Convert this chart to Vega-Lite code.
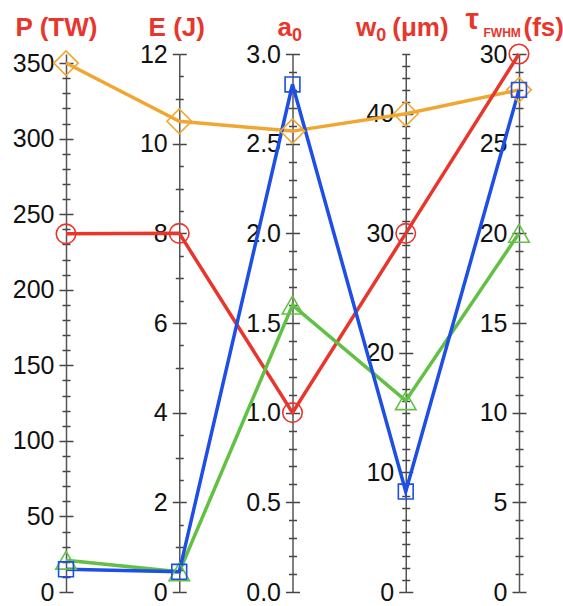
{
  "$schema": "https://vega.github.io/schema/vega-lite/v6.json",
  "width": 563,
  "height": 606,
  "autosize": "none",
  "padding": 0,
  "background": "white",
  "config": {
    "view": {"stroke": null},
    "axis": {
      "grid": false,
      "labelFont": "Liberation Sans",
      "labelFontSize": 25,
      "labelColor": "#111",
      "labelOverlap": false,
      "labelFlush": false,
      "tickColor": "#444",
      "tickWidth": 1.5,
      "domainColor": "#555",
      "domainWidth": 1.5,
      "titleFont": "Liberation Sans",
      "titleFontWeight": "bold",
      "titleColor": "#e8362c",
      "titleAngle": 0,
      "titleBaseline": "alphabetic",
      "titleFontSize": 26
    }
  },
  "data": {
    "values": [
      {"series": "A", "axis": "P", "value": 350},
      {"series": "A", "axis": "E", "value": 10.5},
      {"series": "A", "axis": "a0", "value": 2.57},
      {"series": "A", "axis": "w0", "value": 40},
      {"series": "A", "axis": "tau", "value": 28},
      {"series": "B", "axis": "P", "value": 237},
      {"series": "B", "axis": "E", "value": 8},
      {"series": "B", "axis": "a0", "value": 1.0},
      {"series": "B", "axis": "w0", "value": 30},
      {"series": "B", "axis": "tau", "value": 30},
      {"series": "D", "axis": "P", "value": 21},
      {"series": "D", "axis": "E", "value": 0.45},
      {"series": "D", "axis": "a0", "value": 1.6},
      {"series": "D", "axis": "w0", "value": 16},
      {"series": "D", "axis": "tau", "value": 20},
      {"series": "C", "axis": "P", "value": 15},
      {"series": "C", "axis": "E", "value": 0.45},
      {"series": "C", "axis": "a0", "value": 2.83},
      {"series": "C", "axis": "w0", "value": 8.4},
      {"series": "C", "axis": "tau", "value": 28}
    ]
  },
  "encoding": {
    "x": {"field": "axis", "type": "nominal", "axis": null,
      "scale": {"type": "point", "domain": ["P", "E", "a0", "w0", "tau"], "range": [66, 519], "padding": 0}},
    "color": {"field": "series", "type": "nominal", "legend": null,
      "scale": {"domain": ["A", "B", "C", "D"], "range": ["#f0a732", "#e8362c", "#1d4fe6", "#62c144"]}}
  },
  "layer": [
    {
      "transform": [{"calculate": "datum.value / (datum.axis === 'P' ? 356 : datum.axis === 'E' ? 12 : datum.axis === 'a0' ? 3 : datum.axis === 'w0' ? 45 : 30)", "as": "norm"}],
      "mark": {"type": "line", "strokeWidth": 3.5},
      "encoding": {
        "y": {"field": "norm", "type": "quantitative", "axis": null, "scale": {"domain": [0, 1], "range": [592, 54], "nice": false}},
        "order": {"value": null}
      }
    },
    {
      "transform": [{"filter": "datum.axis === 'P'"}],
      "mark": {"type": "point", "filled": false, "strokeWidth": 1.6, "opacity": 1, "size": {"expr": "datum.series === 'A' ? 600 : datum.series === 'B' ? 380 : datum.series === 'C' ? 220 : 420"}},
      "encoding": {
        "shape": {"field": "series", "type": "nominal", "legend": null, "scale": {"domain": ["A", "B", "C", "D"], "range": ["diamond", "circle", "square", "triangle-up"]}},
        "y": {"field": "value", "type": "quantitative", "scale": {"domain": [0, 356], "range": [592, 54], "nice": false},
          "axis": {"orient": "left", "offset": -66,
            "values": [0,10,20,30,40,50,60,70,80,90,100,110,120,130,140,150,160,170,180,190,200,210,220,230,240,250,260,270,280,290,300,310,320,330,340,350],
            "format": "d", "labelExpr": "datum.value % 50 === 0 ? datum.label : ''",
            "tickSize": {"condition": {"test": "datum.value % 50 === 0", "value": 7}, "value": 4},
            "labelPadding": 5,
            "title": "P (TW)", "titleAlign": "center", "titleX": -10, "titleY": 35}}
      }
    },
    {
      "transform": [{"filter": "datum.axis === 'E'"}],
      "mark": {"type": "point", "filled": false, "strokeWidth": 1.6, "opacity": 1, "size": {"expr": "datum.series === 'A' ? 600 : datum.series === 'B' ? 380 : datum.series === 'C' ? 220 : 420"}},
      "encoding": {
        "shape": {"field": "series", "type": "nominal", "legend": null},
        "y": {"field": "value", "type": "quantitative", "scale": {"domain": [0, 12], "range": [592, 54], "nice": false},
          "axis": {"orient": "left", "offset": -179.25,
            "values": [0,0.5,1,1.5,2,2.5,3,3.5,4,4.5,5,5.5,6,6.5,7,7.5,8,8.5,9,9.5,10,10.5,11,11.5,12],
            "format": "d", "labelExpr": "datum.value % 2 === 0 ? datum.label : ''",
            "tickSize": {"condition": {"test": "datum.value % 2 === 0", "value": 7}, "value": 4},
            "labelPadding": 5,
            "title": "E (J)", "titleAlign": "center", "titleX": -3, "titleY": 35}}
      }
    },
    {
      "transform": [{"filter": "datum.axis === 'a0'"}],
      "mark": {"type": "point", "filled": false, "strokeWidth": 1.6, "opacity": 1, "size": {"expr": "datum.series === 'A' ? 600 : datum.series === 'B' ? 380 : datum.series === 'C' ? 220 : 420"}},
      "encoding": {
        "shape": {"field": "series", "type": "nominal", "legend": null},
        "y": {"field": "value", "type": "quantitative", "scale": {"domain": [0, 3], "range": [592, 54], "nice": false},
          "axis": {"orient": "left", "offset": -292.5,
            "values": [0,0.1,0.2,0.3,0.4,0.5,0.6,0.7,0.8,0.9,1,1.1,1.2,1.3,1.4,1.5,1.6,1.7,1.8,1.9,2,2.1,2.2,2.3,2.4,2.5,2.6,2.7,2.8,2.9,3],
            "format": ".1f", "labelExpr": "abs(datum.value * 2 - round(datum.value * 2)) < 0.001 ? datum.label : ''",
            "tickSize": {"condition": {"test": "abs(datum.value * 2 - round(datum.value * 2)) < 0.001", "value": 7}, "value": 4},
            "labelPadding": 5,
            "title": "a", "titleAlign": "right", "titleX": -1, "titleY": 35}}
      }
    },
    {
      "transform": [{"filter": "datum.axis === 'w0'"}],
      "mark": {"type": "point", "filled": false, "strokeWidth": 1.6, "opacity": 1, "size": {"expr": "datum.series === 'A' ? 600 : datum.series === 'B' ? 380 : datum.series === 'C' ? 220 : 420"}},
      "encoding": {
        "shape": {"field": "series", "type": "nominal", "legend": null},
        "y": {"field": "value", "type": "quantitative", "scale": {"domain": [0, 45], "range": [592, 54], "nice": false},
          "axis": {"orient": "left", "offset": -405.75,
            "values": [0,1,2,3,4,5,6,7,8,9,10,11,12,13,14,15,16,17,18,19,20,21,22,23,24,25,26,27,28,29,30,31,32,33,34,35,36,37,38,39,40,41,42,43,44,45],
            "format": "d", "labelExpr": "datum.value % 10 === 0 ? datum.label : ''",
            "tickSize": {"condition": {"test": "datum.value % 10 === 0", "value": 7}, "value": 4},
            "labelPadding": 5,
            "title": "w", "titleAlign": "right", "titleX": -30, "titleY": 35}}
      }
    },
    {
      "transform": [{"filter": "datum.axis === 'tau'"}],
      "mark": {"type": "point", "filled": false, "strokeWidth": 1.6, "opacity": 1, "size": {"expr": "datum.series === 'A' ? 600 : datum.series === 'B' ? 380 : datum.series === 'C' ? 220 : 420"}},
      "encoding": {
        "shape": {"field": "series", "type": "nominal", "legend": null},
        "y": {"field": "value", "type": "quantitative", "scale": {"domain": [0, 30], "range": [592, 54], "nice": false},
          "axis": {"orient": "left", "offset": -519,
            "values": [0,1,2,3,4,5,6,7,8,9,10,11,12,13,14,15,16,17,18,19,20,21,22,23,24,25,26,27,28,29,30],
            "format": "d", "labelExpr": "datum.value % 5 === 0 ? datum.label : ''",
            "tickSize": {"condition": {"test": "datum.value % 5 === 0", "value": 7}, "value": 4},
            "labelPadding": 5,
            "title": "τ", "titleAlign": "left", "titleX": -54, "titleY": 28, "titleFontSize": 30}}
      }
    },
    {
      "transform": [{"filter": "datum.axis === 'P'"}],
      "mark": {"type": "point", "opacity": 0},
      "encoding": {
        "y": {"field": "value", "type": "quantitative", "scale": {"domain": [0, 356], "range": [592, 54], "nice": false},
          "axis": {"orient": "right", "offset": -497, "domain": false, "labels": false,
            "values": [0,10,20,30,40,50,60,70,80,90,100,110,120,130,140,150,160,170,180,190,200,210,220,230,240,250,260,270,280,290,300,310,320,330,340,350],
            "tickSize": {"condition": {"test": "datum.value % 50 === 0", "value": 7}, "value": 4},
            "title": null}}
      }
    },
    {
      "transform": [{"filter": "datum.axis === 'E'"}],
      "mark": {"type": "point", "opacity": 0},
      "encoding": {
        "y": {"field": "value", "type": "quantitative", "scale": {"domain": [0, 12], "range": [592, 54], "nice": false},
          "axis": {"orient": "right", "offset": -383.75, "domain": false, "labels": false,
            "values": [0,0.5,1,1.5,2,2.5,3,3.5,4,4.5,5,5.5,6,6.5,7,7.5,8,8.5,9,9.5,10,10.5,11,11.5,12],
            "tickSize": {"condition": {"test": "datum.value % 2 === 0", "value": 7}, "value": 4},
            "title": null}}
      }
    },
    {
      "transform": [{"filter": "datum.axis === 'a0'"}],
      "mark": {"type": "point", "opacity": 0},
      "encoding": {
        "y": {"field": "value", "type": "quantitative", "scale": {"domain": [0, 3], "range": [592, 54], "nice": false},
          "axis": {"orient": "right", "offset": -270.5, "domain": false, "labels": false,
            "values": [0,0.1,0.2,0.3,0.4,0.5,0.6,0.7,0.8,0.9,1,1.1,1.2,1.3,1.4,1.5,1.6,1.7,1.8,1.9,2,2.1,2.2,2.3,2.4,2.5,2.6,2.7,2.8,2.9,3],
            "tickSize": {"condition": {"test": "abs(datum.value * 2 - round(datum.value * 2)) < 0.001", "value": 7}, "value": 4},
            "title": "0", "titleAlign": "left", "titleX": -1, "titleY": 40, "titleFontSize": 18}}
      }
    },
    {
      "transform": [{"filter": "datum.axis === 'w0'"}],
      "mark": {"type": "point", "opacity": 0},
      "encoding": {
        "y": {"field": "value", "type": "quantitative", "scale": {"domain": [0, 45], "range": [592, 54], "nice": false},
          "axis": {"orient": "right", "offset": -157.25, "domain": false, "labels": false,
            "values": [0,1,2,3,4,5,6,7,8,9,10,11,12,13,14,15,16,17,18,19,20,21,22,23,24,25,26,27,28,29,30,31,32,33,34,35,36,37,38,39,40,41,42,43,44,45],
            "tickSize": {"condition": {"test": "datum.value % 10 === 0", "value": 7}, "value": 4},
            "title": "0", "titleAlign": "left", "titleX": -30, "titleY": 40, "titleFontSize": 18}}
      }
    },
    {
      "transform": [{"filter": "datum.axis === 'tau'"}],
      "mark": {"type": "point", "opacity": 0},
      "encoding": {
        "y": {"field": "value", "type": "quantitative", "scale": {"domain": [0, 30], "range": [592, 54], "nice": false},
          "axis": {"orient": "right", "offset": -44, "domain": false, "labels": false,
            "values": [0,1,2,3,4,5,6,7,8,9,10,11,12,13,14,15,16,17,18,19,20,21,22,23,24,25,26,27,28,29,30],
            "tickSize": {"condition": {"test": "datum.value % 5 === 0", "value": 7}, "value": 4},
            "title": "FWHM", "titleAlign": "left", "titleX": -36, "titleY": 36, "titleFontSize": 12}}
      }
    },
    {
      "transform": [{"filter": "datum.axis === 'w0'"}],
      "mark": {"type": "point", "opacity": 0},
      "encoding": {
        "y": {"field": "value", "type": "quantitative", "scale": {"domain": [0, 45], "range": [592, 54], "nice": false},
          "axis": {"orient": "left", "offset": -405.75, "domain": false, "labels": false, "ticks": false,
            "title": "(μm)", "titleAlign": "left", "titleX": -14, "titleY": 35}}
      }
    },
    {
      "transform": [{"filter": "datum.axis === 'tau'"}],
      "mark": {"type": "point", "opacity": 0},
      "encoding": {
        "y": {"field": "value", "type": "quantitative", "scale": {"domain": [0, 30], "range": [592, 54], "nice": false},
          "axis": {"orient": "left", "offset": -519, "domain": false, "labels": false, "ticks": false,
            "title": "(fs)", "titleAlign": "left", "titleX": 4, "titleY": 35}}
      }
    }
  ],
  "resolve": {"scale": {"y": "independent"}}
}
